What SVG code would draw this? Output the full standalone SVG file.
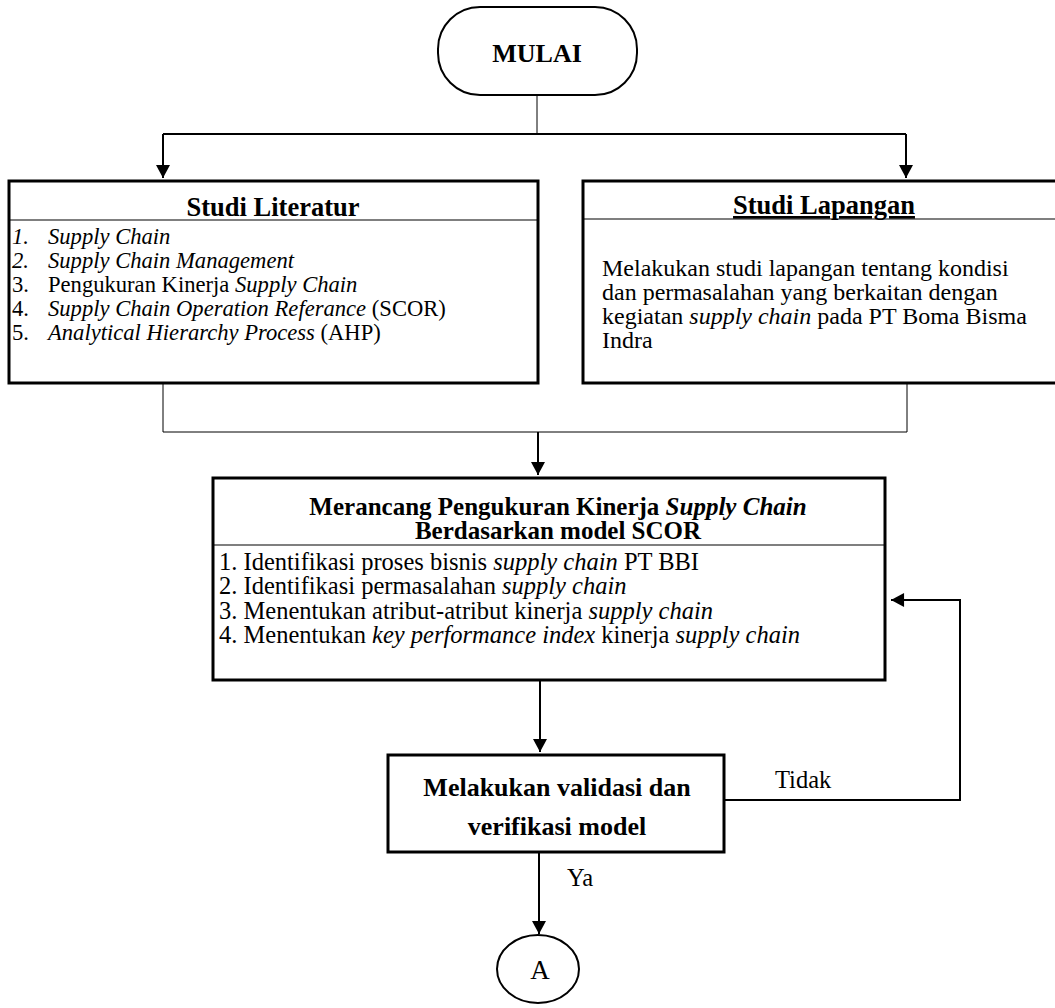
<svg xmlns="http://www.w3.org/2000/svg" width="1055" height="1008" viewBox="0 0 1055 1008">
  <style>
    text { font-family: "Liberation Serif", "Times New Roman", serif; fill: #000; }
    .box { fill: #fff; stroke: #000; stroke-width: 3; }
    .sep { stroke: #000; stroke-width: 1.2; fill: none; }
    .thin { stroke: #000; stroke-width: 1; fill: none; }
    .flow { stroke: #000; stroke-width: 2; fill: none; }
    .title { font-weight: bold; font-size: 26.5px; text-anchor: middle; }
    .head { font-weight: bold; font-size: 25px; text-anchor: middle; }
    .item { font-size: 22.6px; }
    .body { font-size: 24px; }
    .step { font-size: 24.5px; }
    .big { font-weight: bold; font-size: 26px; text-anchor: middle; }
    .lbl { font-size: 24.5px; }
    .i { font-style: italic; }
  </style>
  <defs>
    <marker id="arrow" viewBox="0 0 14 15" refX="14" refY="7.5" markerWidth="15" markerHeight="14" markerUnits="userSpaceOnUse" orient="auto">
      <path d="M0,0 L14,7.5 L0,15 Z" fill="#000"/>
    </marker>
  </defs>

  <!-- connectors -->
  <g id="connectors">
    <path class="thin" d="M537,95 V134"/>
    <path class="flow" d="M163,134 H906"/>
    <path class="flow" d="M163,134 V178" marker-end="url(#arrow)"/>
    <path class="flow" d="M906,134 V178" marker-end="url(#arrow)"/>
    <path class="thin" d="M163,383 V432 H907 V383"/>
    <path class="flow" d="M538,432 V475" marker-end="url(#arrow)"/>
    <path class="flow" d="M540,680 V752" marker-end="url(#arrow)"/>
    <path class="flow" d="M539,852 V934" marker-end="url(#arrow)"/>
    <path class="flow" d="M724,800 H960 V600 H891" marker-end="url(#arrow)"/>
    <text class="lbl" x="775" y="788">Tidak</text>
    <text class="lbl" x="567" y="886">Ya</text>
  </g>

  <!-- start terminal -->
  <g id="mulai">
    <rect x="438" y="7" width="199" height="88" rx="42" ry="42" fill="#fff" stroke="#000" stroke-width="2"/>
    <text class="big" x="537" y="62" font-size="30">MULAI</text>
  </g>

  <!-- literature study -->
  <g id="studi-literatur">
    <rect class="box" x="9" y="181" width="529" height="202"/>
    <text class="title" x="273" y="216">Studi Literatur</text>
    <path class="sep" d="M9,220 H538"/>
    <text class="item i" x="12" y="244">1.</text>
    <text class="item i" x="48" y="244">Supply Chain</text>
    <text class="item i" x="12" y="268">2.</text>
    <text class="item i" x="48" y="268">Supply Chain Management</text>
    <text class="item" x="12" y="292">3.</text>
    <text class="item" x="48" y="292">Pengukuran Kinerja <tspan class="i">Supply Chain</tspan></text>
    <text class="item" x="12" y="316">4.</text>
    <text class="item" x="48" y="316"><tspan class="i">Supply Chain Operation Referance</tspan> (SCOR)</text>
    <text class="item" x="12" y="340">5.</text>
    <text class="item" x="48" y="340"><tspan class="i">Analytical Hierarchy Process</tspan> (AHP)</text>
  </g>

  <!-- field study -->
  <g id="studi-lapangan">
    <rect class="box" x="583" y="181" width="480" height="202"/>
    <text class="title" x="824" y="214" text-decoration="underline">Studi Lapangan</text>
    <path class="sep" d="M583,219 H1055"/>
    <text class="body" x="602" y="276">Melakukan studi lapangan tentang kondisi</text>
    <text class="body" x="602" y="300">dan permasalahan yang berkaitan dengan</text>
    <text class="body" x="602" y="324">kegiatan <tspan class="i">supply chain</tspan> pada PT Boma Bisma</text>
    <text class="body" x="602" y="348">Indra</text>
  </g>

  <!-- design step -->
  <g id="merancang">
    <rect class="box" x="213" y="478" width="672" height="202" stroke-width="2.5"/>
    <text class="head" x="558" y="515">Merancang Pengukuran Kinerja <tspan class="i">Supply Chain</tspan></text>
    <text class="head" x="558" y="539">Berdasarkan model SCOR</text>
    <path class="sep" d="M213,545 H885"/>
    <text class="step" x="219" y="570">1. Identifikasi proses bisnis <tspan class="i">supply chain</tspan> PT BBI</text>
    <text class="step" x="219" y="594">2. Identifikasi permasalahan <tspan class="i">supply chain</tspan></text>
    <text class="step" x="219" y="619">3. Menentukan atribut-atribut kinerja <tspan class="i">supply chain</tspan></text>
    <text class="step" x="219" y="643">4. Menentukan <tspan class="i">key performance index</tspan> kinerja <tspan class="i">supply chain</tspan></text>
  </g>

  <!-- validation step -->
  <g id="validasi">
    <rect class="box" x="388" y="755" width="336" height="97"/>
    <text class="big" x="557" y="796">Melakukan validasi dan</text>
    <text class="big" x="557" y="835">verifikasi model</text>
  </g>

  <!-- off-page connector -->
  <g id="konektor-a">
    <ellipse cx="538" cy="969" rx="41" ry="34" fill="#fff" stroke="#000" stroke-width="2"/>
    <text x="540" y="979" font-size="27" text-anchor="middle">A</text>
  </g>
</svg>
